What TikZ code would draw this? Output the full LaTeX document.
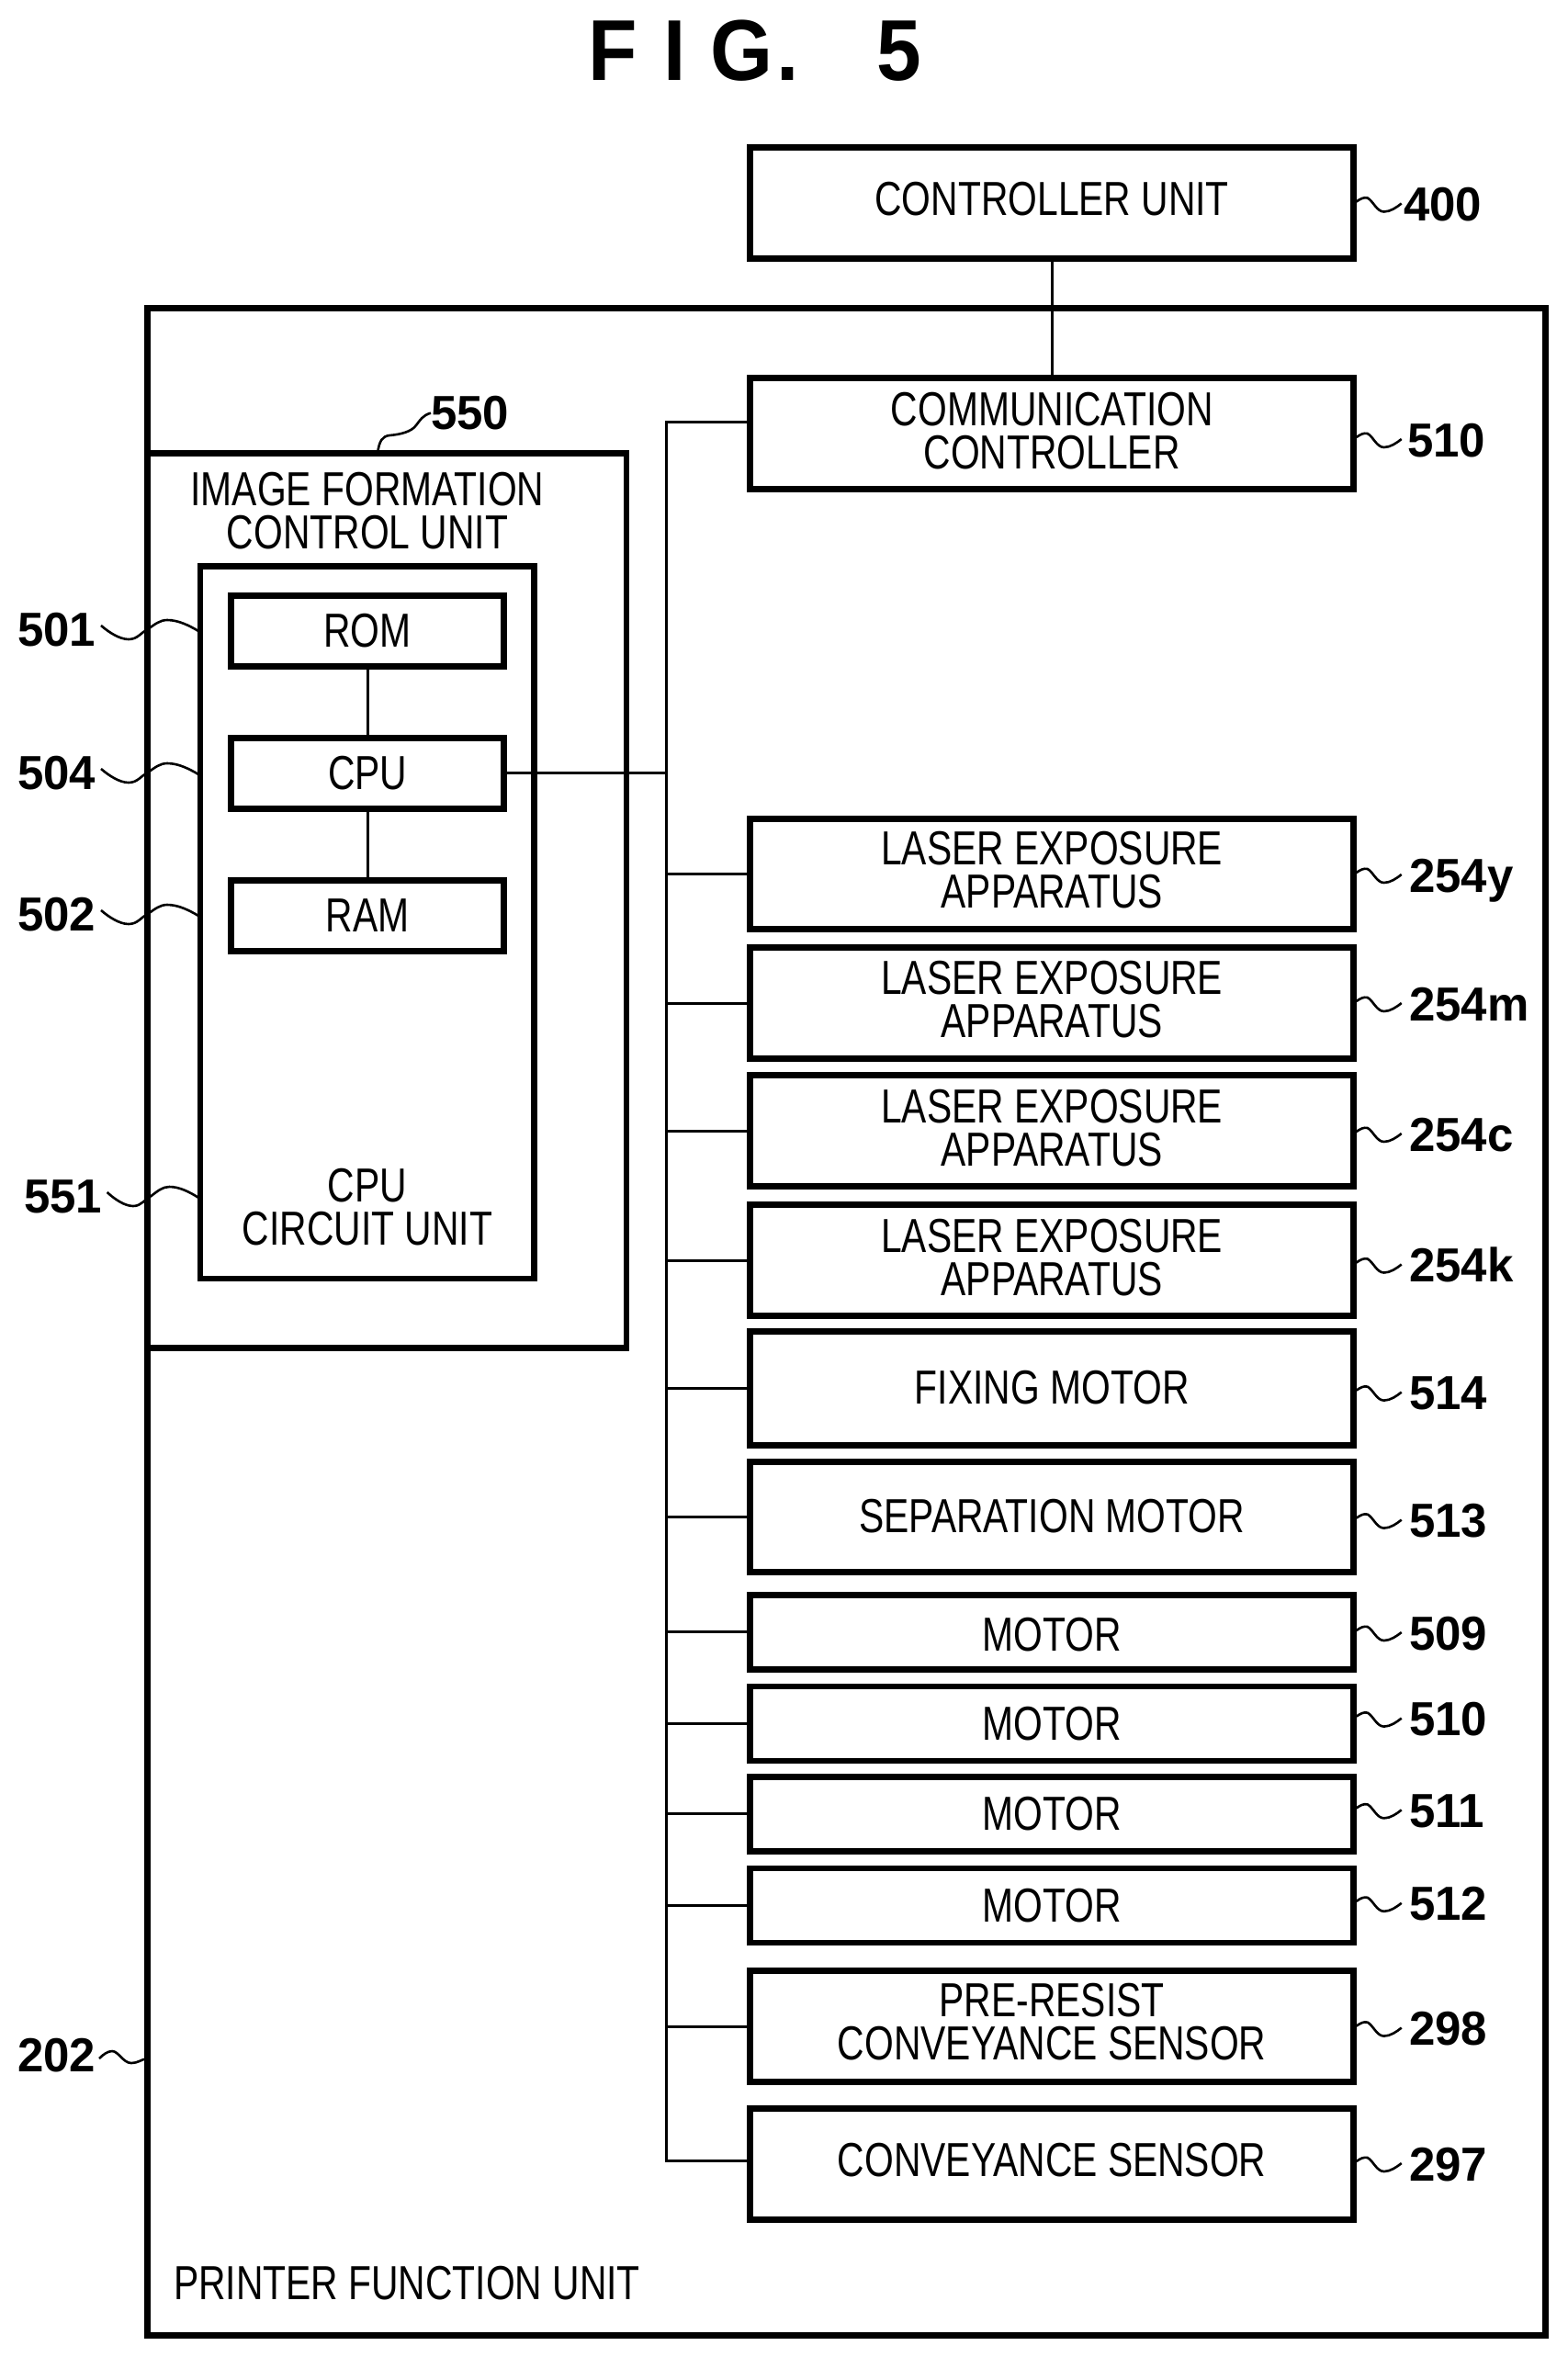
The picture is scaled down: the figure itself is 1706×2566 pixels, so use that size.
\documentclass[tikz,border=0pt]{standalone}
\usepackage{fontspec}
\setmainfont{Liberation Sans}
\newfontfamily\cond[FakeStretch=0.785]{Liberation Sans}
\newfontfamily\condb[FakeStretch=0.93]{Liberation Sans}
\newfontfamily\condn[FakeStretch=0.98]{Liberation Sans}
\tikzset{
  cbox/.style={draw=black,line width=6.7pt,inner sep=0pt,outer sep=0pt},
  rbox/.style={cbox,minimum width=657pt,minimum height=120.6pt},
  motorbox/.style={cbox,minimum width=657pt,minimum height=81pt},
  lbox/.style={cbox,minimum width=297pt,minimum height=77pt,font=\cond\fontsize{52}{47}\selectfont},
  caption/.style={inner sep=0pt,outer sep=0pt,align=center,font=\cond\fontsize{52}{47}\selectfont},
  refnum/.style={inner sep=0pt,outer sep=0pt,text height=36pt,text depth=0pt,font=\condn\bfseries\fontsize{52}{52}\selectfont},
  wire/.style={draw=black,line width=3pt},
  lead/.style={draw=black,line width=2.6pt}
}
\newcommand{\rsq}[2]{\draw[lead,shift={(#1.east |- #2.west)}] (3,-3) .. controls (7,-6) and (11,-8) .. (15,-7) .. controls (21,-4) and (25,8) .. (33,8) .. controls (40,8) and (47,3) .. (52,-1);}
\newcommand{\lsq}[2][1]{\draw[lead,shift={(#2.east)},xscale=#1] (6,-4) .. controls (14,3) and (26,11) .. (36,11) .. controls (46,11) and (50,3) .. (57,0) .. controls (64,-5) and (70,-10) .. (78,-10) .. controls (90,-10) and (102,-4) .. (112,2);}
\begin{document}
\begin{tikzpicture}[x=1pt,y=-1pt]
\useasboundingbox (0,0) rectangle (1706,2566);
\fill[white] (0,0) rectangle (1706,2566);
\node[inner sep=0pt,anchor=base west,font=\condb\bfseries\fontsize{94}{94}\selectfont] (title) at (640,88) {F\hspace{28.5pt}I\hspace{27pt}G\hspace{4.5pt}.\hspace{84pt}5};
% containers
\node[cbox,minimum width=1522pt,minimum height=2206.8pt] (n202) at (921.7,1438.9) {};
\node[cbox,minimum width=521pt,minimum height=974.2pt] (n550) at (421.5,980.4) {};
\node[cbox,minimum width=363.7pt,minimum height=775.3pt] (n551) at (399.85,1004.35) {};
\node[caption] (t550) at (400,556) {IMAGE FORMATION\\CONTROL UNIT};
\node[caption] (t551) at (400,1314) {CPU\\CIRCUIT UNIT};
\node[caption,anchor=base west] (t202) at (189,2503) {PRINTER FUNCTION UNIT};
% left boxes
\node[lbox] (nrom) at (400.1,686.8) {ROM};
\node[lbox] (ncpu) at (400.1,841.8) {CPU};
\node[lbox] (nram) at (400.1,996.8) {RAM};
% right boxes
\node[rbox,label={[caption,yshift=4pt]center:CONTROLLER UNIT}] (n400) at (1145.2,221) {};
\node[rbox,label={[caption,yshift=3pt]center:{COMMUNICATION\\CONTROLLER}}] (ncom) at (1145.2,472) {};
\node[rbox,label={[caption,yshift=4pt]center:{LASER EXPOSURE\\APPARATUS}}] (nlay) at (1145.2,951.5) {};
\node[rbox,label={[caption,yshift=4pt]center:{LASER EXPOSURE\\APPARATUS}}] (nlam) at (1145.2,1092) {};
\node[rbox,label={[caption,yshift=3pt]center:{LASER EXPOSURE\\APPARATUS}}] (nlac) at (1145.2,1231) {};
\node[rbox,label={[caption,yshift=3pt]center:{LASER EXPOSURE\\APPARATUS}}] (nlak) at (1145.2,1372) {};
\node[rbox,minimum height=124pt,label={[caption,yshift=1.5pt]center:FIXING MOTOR}] (nfix) at (1145.2,1511.7) {};
\node[rbox,label={[caption,yshift=1pt]center:SEPARATION MOTOR}] (nsep) at (1145.2,1651.5) {};
\node[motorbox,label={[caption,yshift=-3pt]center:MOTOR}] (nm9) at (1145.2,1776.7) {};
\node[motorbox,label={[caption]center:MOTOR}] (nm0) at (1145.2,1876.5) {};
\node[motorbox,label={[caption]center:MOTOR}] (nm1) at (1145.2,1974.7) {};
\node[motorbox,label={[caption]center:MOTOR}] (nm2) at (1145.2,2074.4) {};
\node[rbox,label={[caption,yshift=5pt]center:{PRE-RESIST\\CONVEYANCE SENSOR}}] (npre) at (1145.2,2206) {};
\node[rbox,label={[caption,yshift=4pt]center:CONVEYANCE SENSOR}] (ncon) at (1145.2,2356) {};
% wires
\coordinate (bustop) at (725.6,459.3);
\coordinate (busend) at ([yshift=4pt]ncon.west);
\draw[wire] (n400) -- (ncom);
\draw[wire] (nrom) -- (ncpu);
\draw[wire] (ncpu) -- (nram);
\draw[wire] (ncom.west |- bustop) -- (bustop) -- (bustop |- busend) -- (busend);
\draw[wire] (ncpu.east) -- (bustop |- ncpu.east);
\foreach \n in {nlay,nlam,nlac,nlak,nfix,nsep,nm9,nm0,nm1,nm2,npre}
  \draw[wire] (\n.west) -- (bustop |- \n.west);
% right labels
\node[refnum,anchor=west] (l400) at (1528,222.5) {400};
\node[refnum,anchor=west] (l510a) at (1532,479) {510};
\node[refnum,anchor=west] (l254y) at (1534,953) {254y};
\node[refnum,anchor=west] (l254m) at (1534,1093) {254m};
\node[refnum,anchor=west] (l254c) at (1534,1235) {254c};
\node[refnum,anchor=west] (l254k) at (1534,1377.5) {254k};
\node[refnum,anchor=west] (l514) at (1534,1516.6) {514};
\node[refnum,anchor=west] (l513) at (1534,1655.6) {513};
\node[refnum,anchor=west] (l509) at (1534,1778) {509};
\node[refnum,anchor=west] (l510b) at (1534,1871.6) {510};
\node[refnum,anchor=west] (l511) at (1534,1971.4) {511};
\node[refnum,anchor=west] (l512) at (1534,2072.8) {512};
\node[refnum,anchor=west] (l298) at (1534,2208.6) {298};
\node[refnum,anchor=west] (l297) at (1534,2356) {297};
\rsq{n400}{l400}
\rsq{ncom}{l510a}
\rsq{nlay}{l254y}
\rsq{nlam}{l254m}
\rsq{nlac}{l254c}
\rsq{nlak}{l254k}
\rsq{nfix}{l514}
\rsq{nsep}{l513}
\rsq{nm9}{l509}
\rsq{nm0}{l510b}
\rsq{nm1}{l511}
\rsq{nm2}{l512}
\rsq{npre}{l298}
\rsq{ncon}{l297}
% left labels
\node[refnum,anchor=west] (l501) at (19,685) {501};
\node[refnum,anchor=west] (l504) at (19,841) {504};
\node[refnum,anchor=west] (l502) at (19,995) {502};
\node[refnum,anchor=west] (l551) at (26,1302) {551};
\node[refnum,anchor=west] (l202) at (19,2237) {202};
\node[refnum,anchor=west] (l550) at (469,449.7) {550};
\lsq{l501}
\lsq{l504}
\lsq{l502}
\lsq[0.94]{l551}
\draw[lead,shift={(l202.east)}] (4,4) .. controls (8,0) and (13,-4) .. (18,-4) .. controls (25,-4) and (30,9) .. (39,9) .. controls (46,9) and (50,5) .. (56,4);
\draw[lead] (n550.north -| 411,0) .. controls (413,480) and (416,475) .. (424,474) .. controls (436,473) and (448,470) .. (453,463) .. controls (457,458) and (460,452) .. (l550.west);
\end{tikzpicture}
\end{document}
